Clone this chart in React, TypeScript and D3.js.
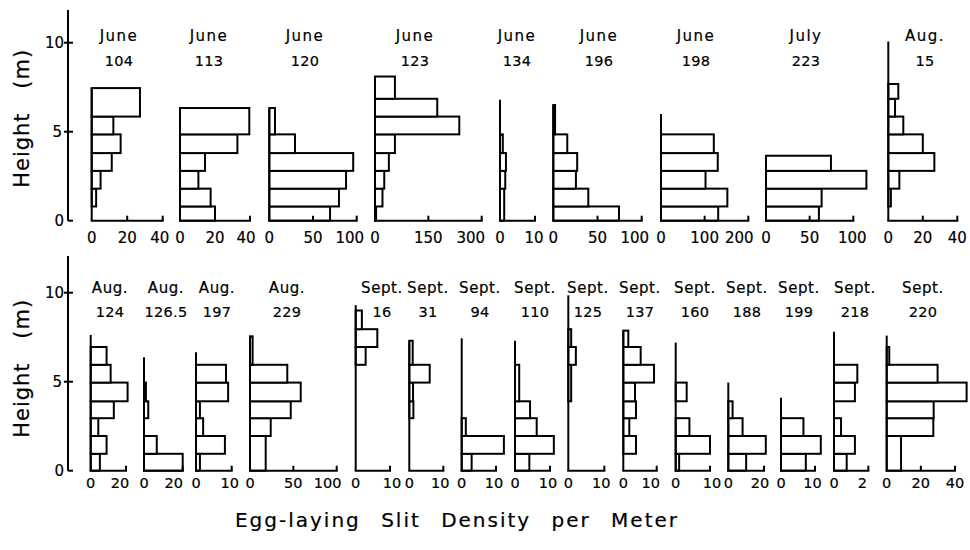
import React from "react";
import * as d3 from "d3";

// ---------- data ----------
const months = [
  "June", "June", "June", "June", "June", "June", "June", "July", "Aug.",
  "Aug.", "Aug.", "Aug.", "Aug.", "Sept.", "Sept.", "Sept.", "Sept.", "Sept.",
  "Sept.", "Sept.", "Sept.", "Sept.", "Sept.", "Sept.",
];
const trees = [
  "104", "113", "120", "123", "134", "196", "198", "223", "15",
  "124", "126.5", "197", "229", "16", "31", "94", "110", "125",
  "137", "160", "188", "199", "218", "220",
];
const xMax = [40, 40, 100, 300, 10, 100, 200, 100, 40, 20, 20, 10, 100, 10, 10, 10, 10, 10, 10, 10, 20, 10, 2, 40];
const tickValues: number[][] = [
  [0, 20, 40], [0, 20, 40], [0, 50, 100], [0, 150, 300], [0, 10], [0, 50, 100],
  [0, 100, 200], [0, 50, 100], [0, 20, 40],
  [0, 20], [0, 20], [0, 10], [0, 50, 100], [0, 10], [0, 10], [0, 10], [0, 10],
  [0, 10], [0, 10], [0, 10], [0, 20], [0, 10], [0, 2], [0, 20, 40],
];
// slit density per height bin (bins from the ground up)
const values: number[][] = [
  [0, 2.5, 5, 11.3, 16.3, 12.2, 27.2],
  [20, 17.5, 10.5, 14.3, 32.8, 39.6],
  [69.5, 79.7, 87.8, 96, 29.4, 6.5],
  [3, 21, 26, 39, 56, 237, 175, 56],
  [1.2, 1.2, 1.5, 1.7, 0.8],
  [74.3, 39.6, 25.6, 27, 15.8, 2, 2],
  [131, 152, 102, 130, 121],
  [60.6, 63.7, 115, 74.4],
  [0, 1.5, 6.4, 26.7, 20, 8.7, 3.9, 5.8],
  [5.2, 9, 4.3, 13.1, 20.9, 11.3, 9],
  [20, 6.6, 0, 2.2, 1],
  [1.1, 8.1, 2, 1.1, 9, 8.4],
  [18.1, 18.1, 23.9, 47, 58.5, 43, 3],
  [0, 0, 0, 0, 0, 0, 2.9, 6.3, 1.8],
  [0, 0, 0, 1.2, 1.1, 6, 1, 1],
  [2.9, 12.3, 1.2],
  [4.1, 11.1, 6.2, 4.3, 1.2, 1.2],
  [0, 0, 0, 0, 0.8, 0.8, 2.1, 0.8],
  [0, 3.8, 1.8, 3.8, 3.5, 9.2, 5.2, 1.5],
  [1, 10, 4, 0, 3.2],
  [10, 21, 8, 2.4],
  [7.3, 11.7, 6.6],
  [0.74, 1.22, 0.41, 0, 1.22, 1.36],
  [8.4, 8.4, 27.3, 27.5, 46.8, 29.8, 1.5],
];
// height of the top of the highest bin, and of the tree (m)
const barTops = [7.45, 6.33, 6.33, 8.1, 4.85, 6.5, 4.85, 3.65, 7.68,
  6.95, 4.95, 5.95, 7.55, 9.0, 7.3, 2.95, 5.95, 7.95, 7.87, 4.95, 3.9, 2.95, 5.95, 6.95];
const lineTops = [7.45, 6.33, 6.33, 8.1, 6.8, 6.5, 6.0, 3.65, 10.07,
  7.63, 6.37, 6.65, 7.55, 9.3, 7.3, 7.44, 7.3, 9.85, 7.87, 7.2, 4.95, 4.1, 7.8, 7.59];
const row1Edges = [0, 0.8, 1.8, 2.8, 3.8, 4.85, 5.85, 6.85, 7.85, 8.85];
const row2Edges = [0, 0.95, 1.95, 2.95, 3.9, 4.95, 5.95, 6.95, 7.95, 8.95];
const heightTicks = [0, 5, 10];

// ---------- layout ----------
const panelX: [number, number][] = [
  [91.7, 162.7], [180, 250], [269.3, 356.7], [375, 481.7], [500, 535], [553.3, 641.7],
  [661, 748.3], [766, 853.3], [888.3, 957.3],
  [90.7, 126], [144, 182.7], [196, 231.7], [250, 336.7], [355.7, 390], [409.3, 443.3],
  [461.7, 496], [515, 550], [568.3, 604.3], [623.3, 656.7], [675.7, 710], [728.3, 764],
  [781, 815], [834, 868.3], [886.7, 955],
];
const titleX = [119, 209, 305, 415, 517, 599, 696, 806, 925,
  110, 166, 217, 287, 382, 428, 480, 535, 588, 640, 695, 747, 799, 855, 923];
const lastLabelDx = [-3, -4, -7, -11, -1, -7, -9, -1, 0,
  -6, -9, -2, -9, 2, -3, -2, -2, -3, -6, 2, -4, -2.5, -6, 0];
const rowBase = [220.7, 470.7];
const rowAxisTop = [10, 256];
const FONT = "'DejaVu Sans', sans-serif";
const TS = { stroke: "#000", strokeWidth: 0.2 };

export default function App() {
  return (
    <svg width={970} height={550} style={{ position: "absolute", left: 0, top: 0, background: "#fff" }}>
      {[0, 1].map((r) => {
        const yS = d3.scaleLinear().domain([0, 10]).range([rowBase[r], rowBase[r] - 178]);
        return (
          <g key={"ax" + r}>
            <line x1={68} x2={68} y1={rowAxisTop[r]} y2={rowBase[r]} stroke="#000" strokeWidth={2} />
            {heightTicks.map((t) => (
              <g key={t}>
                <line x1={t === 0 ? 68 : 64} x2={73} y1={yS(t)} y2={yS(t)} stroke="#000" strokeWidth={2} />
                <text x={t === 5 ? 62 : 64} y={yS(t) + 5} textAnchor="end" fontFamily={FONT} fontSize={15} fill="#000" {...TS}>{t}</text>
              </g>
            ))}
            <text
              transform={`translate(29,${yS(5.75)}) rotate(-90)`}
              textAnchor="middle" fontFamily={FONT} fontSize={21} letterSpacing={1}
              style={{ wordSpacing: "16px", whiteSpace: "pre" }} fill="#000" {...TS}
            >Height (m)</text>
          </g>
        );
      })}
      {values.map((vals, i) => {
        const r = i < 9 ? 0 : 1;
        const edges = r === 0 ? row1Edges : row2Edges;
        const yS = d3.scaleLinear().domain([0, 10]).range([rowBase[r], rowBase[r] - 178]);
        const xS = d3.scaleLinear().domain([0, xMax[i]]).range(panelX[i]);
        // merge adjacent equal bins
        const bars: { lo: number; hi: number; v: number }[] = [];
        vals.forEach((v, k) => {
          const lo = edges[k];
          const hi = k === vals.length - 1 ? barTops[i] : edges[k + 1];
          const last = bars[bars.length - 1];
          if (last && last.v === v && last.hi === lo) last.hi = hi;
          else bars.push({ lo, hi, v });
        });
        const base = rowBase[r];
        const fs = r === 0 ? 15 : 14.5;
        const ticks = tickValues[i];
        return (
          <g key={i}>
            {bars.filter((b) => b.v > 0).map((b, k) => (
              <rect key={k} x={xS(0)} y={yS(b.hi)} width={xS(b.v) - xS(0)} height={yS(b.lo) - yS(b.hi)}
                fill="#fff" stroke="#000" strokeWidth={2} />
            ))}
            <line x1={xS(0)} x2={xS(0)} y1={base} y2={yS(lineTops[i])} stroke="#000" strokeWidth={2} />
            <line x1={xS(0) - 1} x2={xS(xMax[i]) + 1} y1={base} y2={base} stroke="#000" strokeWidth={2} />
            {ticks.filter((t) => t > 0).map((t) => (
              <line key={t} x1={xS(t)} x2={xS(t)} y1={base} y2={base - 5} stroke="#000" strokeWidth={2} />
            ))}
            {ticks.map((t, k) => (
              <text key={"l" + t} x={xS(t) + (k === ticks.length - 1 ? lastLabelDx[i] : 0)}
                y={r === 0 ? 243 : 488} textAnchor="middle"
                fontFamily={FONT} fontSize={fs} fill="#000" {...TS}>{t}</text>
            ))}
            <text x={titleX[i]} y={r === 0 ? 41 : 293} textAnchor="middle" fontFamily={FONT}
              fontSize={15} letterSpacing={r === 0 ? 1.5 : 0.6} fill="#000" {...TS}>{months[i]}</text>
            <text x={titleX[i]} y={r === 0 ? 65.5 : 317} textAnchor="middle" fontFamily={FONT}
              fontSize={14.5} letterSpacing={0.3} fill="#000" {...TS}>{trees[i]}</text>
          </g>
        );
      })}
      <text x={457} y={527} textAnchor="middle" fontFamily={FONT} fontSize={20} letterSpacing={2}
        style={{ wordSpacing: "12px", whiteSpace: "pre" }} fill="#000" {...TS}>
        Egg-laying Slit Density per Meter
      </text>
    </svg>
  );
}
